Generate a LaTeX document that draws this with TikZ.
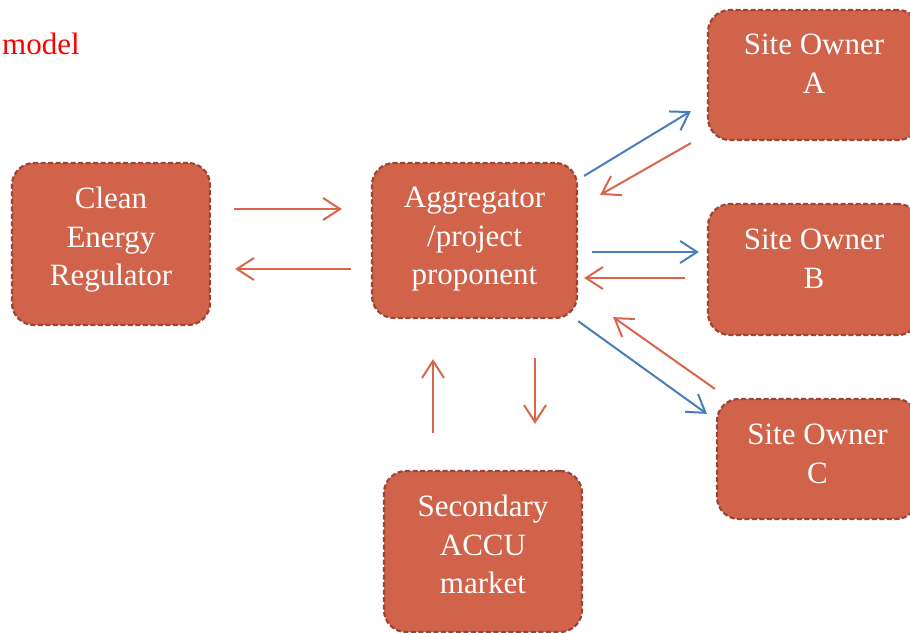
\documentclass[tikz,border=0pt]{standalone}
\usepackage{fontspec}
\setmainfont{Liberation Serif}
\usetikzlibrary{arrows.meta,positioning}
\definecolor{boxfill}{RGB}{208,99,74}
\definecolor{boxline}{RGB}{158,68,52}
\definecolor{arrorange}{RGB}{217,101,75}
\definecolor{arrblue}{RGB}{74,126,187}

\begin{document}
\begin{tikzpicture}[
  x=1pt, y=-1pt,
  box/.style={draw=boxline, fill=boxfill, rounded corners=22pt, line width=2.2pt, dash pattern=on 5pt off 2.5pt},
  txt/.style={inner sep=0pt, align=center, text=white, font=\fontsize{31}{38.5}\selectfont},
  arr/.style={-{Straight Barb[length=17pt, width=22pt]}, line width=2pt, draw=arrorange},
  arrb/.style={arr, draw=arrblue}
]
\useasboundingbox (0,0) rectangle (910,632);

\node[anchor=base west, inner sep=0pt, text=red, font=\fontsize{31}{36}\selectfont] (mdl) at (2,54) {model};

% boxes (the site owner boxes run past the right edge)
\node[box, minimum width=198pt, minimum height=162pt] (cer) at (111,244) {};
\node[box, minimum width=205pt, minimum height=155pt] (agg) at (474.5,240.5) {};
\node[box, minimum width=212pt, minimum height=130pt] (sa) at (814,75) {};
\node[box, minimum width=212pt, minimum height=131pt] (sb) at (814,269.5) {};
\node[box, minimum width=201pt, minimum height=120pt] (sc) at (817.5,459) {};
\node[box, minimum width=198pt, minimum height=161pt] (sec) at (483,551.5) {};

% box texts
\node[txt, below=25pt of cer.north] (cerT) {Clean\\Energy\\Regulator};
\node[txt, below=25pt of agg.north] (aggT) {Aggregator\\/project\\proponent};
\node[txt, below=25pt of sa.north] (saT) {Site Owner\\A};
\node[txt, below=26pt of sb.north] (sbT) {Site Owner\\B};
\node[txt, below=26pt of sc.north] (scT) {Site Owner\\C};
\node[txt, below=25pt of sec.north] (secT) {Secondary\\ACCU\\market};

% regulator <-> aggregator
\draw[arr, shorten <=23pt, shorten >=29pt] ([yshift=35pt]cer.east) -- ([yshift=35pt]cer.east -| agg.west);
\draw[arr, shorten <=20pt, shorten >=24pt] ([yshift=-28.5pt]agg.west) -- ([yshift=-28.5pt]agg.west -| cer.east);

% aggregator <-> site owners
\draw[arrb] ([xshift=6pt, yshift=-14pt]agg.north east) -- ([xshift=-16pt, yshift=30pt]sa.south west);
\draw[arr] ([xshift=-16pt, yshift=-2pt]sa.south west) -- ([xshift=22pt, yshift=-33pt]agg.north east);
\draw[arrb, shorten <=14pt, shorten >=8pt] ([yshift=-11.5pt]agg.east) -- ([yshift=-11.5pt]agg.east -| sb.west);
\draw[arr, shorten <=22pt, shorten >=6pt] ([yshift=-37.5pt]agg.east -| sb.west) -- ([yshift=-37.5pt]agg.east);
\draw[arrb] ([yshift=-2pt]agg.south east) -- ([xshift=-9pt, yshift=-16pt]sc.north west);
\draw[arr] ([xshift=-1pt, yshift=9pt]sc.north west) -- ([xshift=35pt, yshift=2pt]agg.south east);

% aggregator <-> market
\draw[arr, shorten <=37pt, shorten >=40pt] ([xshift=-50pt]sec.north) -- ([xshift=-50pt]sec.north |- agg.south);
\draw[arr, shorten <=39pt, shorten >=46pt] ([xshift=60.5pt]agg.south) -- ([xshift=60.5pt]agg.south |- sec.north);
\end{tikzpicture}
\end{document}
